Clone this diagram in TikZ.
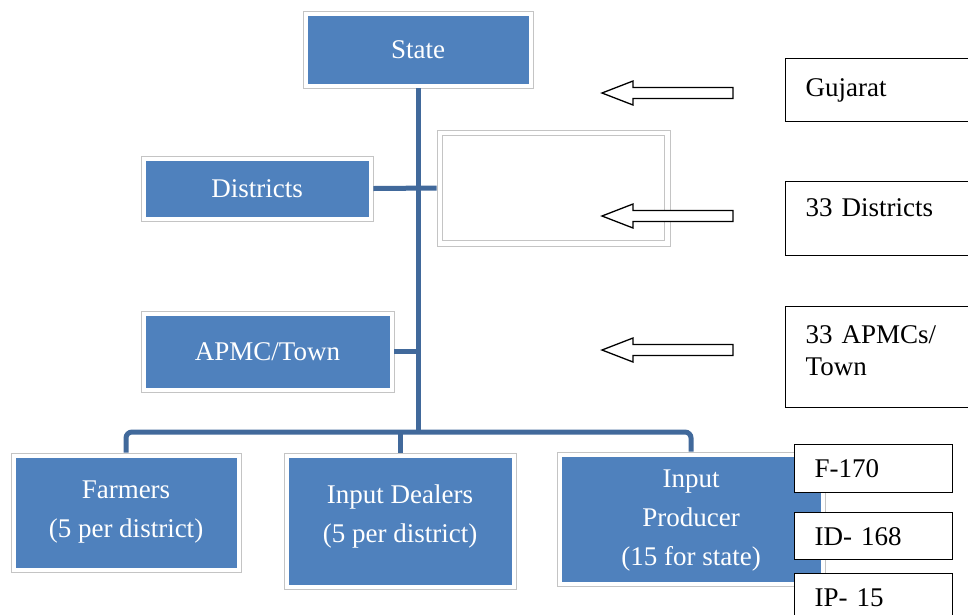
\documentclass[tikz,border=0pt]{standalone}
\usepackage{fontspec}
\setmainfont{Liberation Serif}
\definecolor{boxblue}{HTML}{4F81BD}
\definecolor{lineblue}{HTML}{41699B}
\definecolor{outgray}{HTML}{C4C4C4}
\begin{document}
\begin{tikzpicture}[x=1pt,y=-1pt,
  bluebox/.style={draw=outgray, line width=0.8pt, fill=white, inner sep=0pt,
    text=white, align=center, font=\fontsize{27}{39}\selectfont,
    path picture={\fill[boxblue] ([shift={(4.5pt,-4.5pt)}]path picture bounding box.north west)
      rectangle ([shift={(-4.5pt,4.5pt)}]path picture bounding box.south east);}},
  emptybox/.style={draw=outgray, line width=0.8pt, fill=white, inner sep=0pt,
    path picture={\draw[outgray, line width=0.8pt] ([shift={(5.5pt,-5.5pt)}]path picture bounding box.north west)
      rectangle ([shift={(-5.5pt,5.5pt)}]path picture bounding box.south east);}},
  infobox/.style={draw=black, line width=1.4pt, fill=white, anchor=north west,
    inner xsep=20pt, inner ysep=0pt, text width=150pt, align=left,
    font=\fontsize{27}{32}\selectfont},
  smallbox/.style={draw=black, line width=1.4pt, fill=white, anchor=north west,
    inner xsep=20pt, inner ysep=0pt, text width=118pt, align=left,
    font=\fontsize{27}{32}\selectfont},
  trunk/.style={draw=lineblue, line width=5pt},
  blockarrow/.style={draw=black, line width=1.3pt, fill=white, line join=miter}
]
\useasboundingbox (0,0) rectangle (968,614);

% blue hierarchy boxes
\node[bluebox, minimum width=230pt, minimum height=77pt] (state) at (418,49.5) {State};
\node[bluebox, minimum width=232pt, minimum height=65pt] (districts) at (257,188.5) {Districts};
\node[emptybox, minimum width=233pt, minimum height=116pt] (empty) at (553.5,188) {};
\node[bluebox, minimum width=253pt, minimum height=81pt] (apmc) at (267.5,351.5) {APMC/Town};
\node[bluebox, minimum width=230pt, minimum height=119pt] (farmers) at (126,512.5) {Farmers\\(5 per district)};
\node[bluebox, minimum width=232pt, minimum height=136pt, text depth=14pt] (dealers) at (400,521) {Input Dealers\\(5 per district)};
\node[bluebox, minimum width=268pt, minimum height=134pt, text depth=2pt] (producer) at (691,519) {Input\\Producer\\(15 for state)};

% connectors
\coordinate (bus) at (418,432);
\draw[trunk] (state.south) -- (state.south |- bus);
\draw[trunk] (districts.east) -- (empty.west);
\draw[trunk] (apmc.east) -- (apmc.east -| state.south);
\draw[trunk, rounded corners=6pt] (farmers.north) -- (farmers.north |- bus) -| (producer.north);
\draw[trunk] (dealers.north) -- (dealers.north |- bus);

% block arrows
\foreach \y in {93,216,350}{
  \draw[blockarrow] (602,\y) -- (633,\y-12) -- (633,\y-5.5) -- (733,\y-5.5)
    -- (733,\y+5.5) -- (633,\y+5.5) -- (633,\y+12) -- cycle;
}

% right info boxes
\node[infobox, minimum height=63pt] (guj) at (785,58) {Gujarat};
\node[infobox, minimum height=74pt, text depth=22pt] (dist33) at (785,181) {33 Districts};
\node[infobox, minimum height=101pt, text depth=46pt] (apmc33) at (785,306) {33 APMCs/\\Town};

% count boxes
\node[smallbox, minimum height=48pt] (f170) at (794,444) {F-170};
\node[smallbox, minimum height=47pt] (id168) at (794,512) {ID- 168};
\node[smallbox, minimum height=57pt, text depth=10pt] (ip15) at (794,573) {IP- 15};
\end{tikzpicture}
\end{document}
